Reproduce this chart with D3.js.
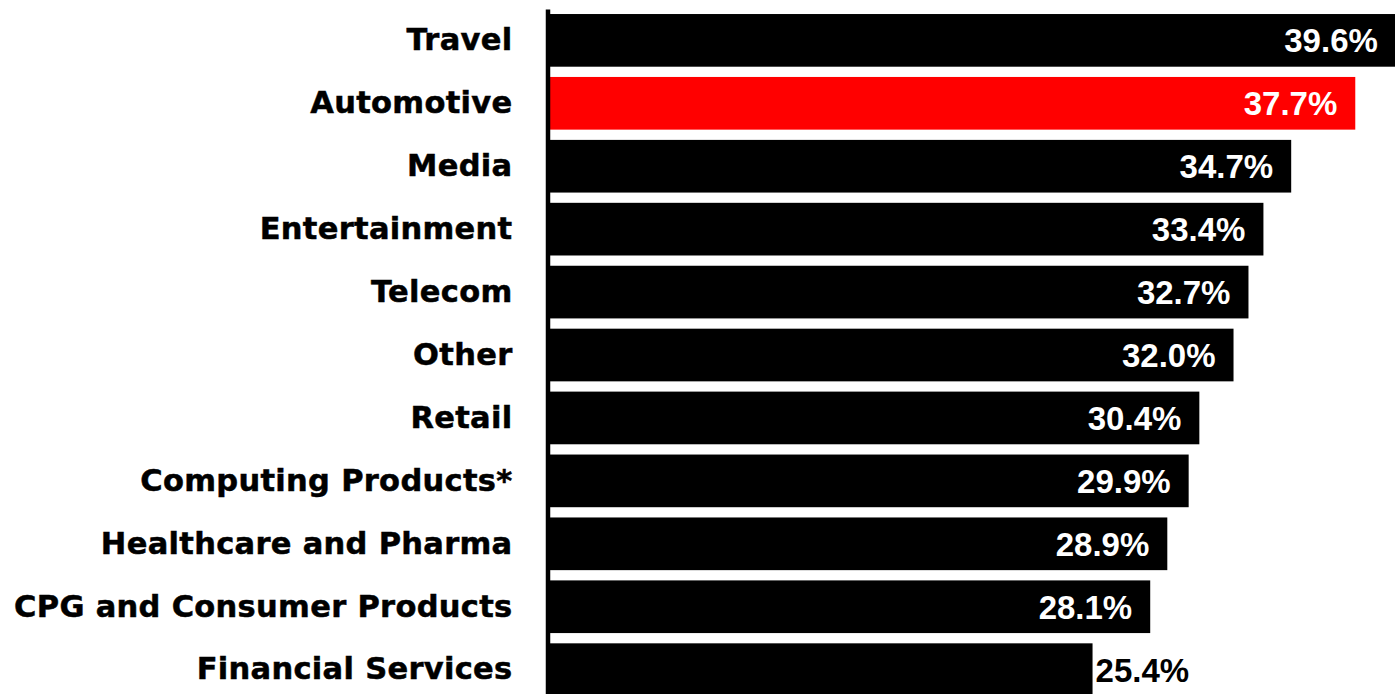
<!DOCTYPE html>
<html>
<head>
<meta charset="utf-8">
<script src="https://cdn.jsdelivr.net/npm/d3@7"></script>
<style>
  html, body { margin: 0; padding: 0; background: #fff; }
  svg { display: block; }
</style>
</head>
<body>
<div id="chart"></div>
<script>
var categories = ["Travel", "Automotive", "Media", "Entertainment", "Telecom", "Other",
  "Retail", "Computing Products*", "Healthcare and Pharma", "CPG and Consumer Products",
  "Financial Services"];
var values = [39.6, 37.7, 34.7, 33.4, 32.7, 32.0, 30.4, 29.9, 28.9, 28.1, 25.4];
var highlight = "Automotive";

var width = 1395, height = 694;

var svg = d3.select("#chart").append("svg")
    .attr("width", width)
    .attr("height", height);

var data = categories.map(function(c, i) { return {cat: c, value: values[i]}; });

var x = d3.scaleLinear()
    .domain([0, 40])
    .range([550, 550 + 40 * 21.36]);

var y = d3.scaleBand()
    .domain(categories)
    .range([8.9, 8.9 + 11 * 62.93])
    .paddingInner(0.163)
    .paddingOuter(0.0815);

// bars
svg.append("g")
  .selectAll("rect")
  .data(data)
  .enter().append("rect")
    .attr("x", x(0))
    .attr("y", function(d) { return y(d.cat); })
    .attr("width", function(d) { return x(d.value) - x(0); })
    .attr("height", y.bandwidth())
    .attr("fill", function(d) { return d.cat === highlight ? "#ff0000" : "#000"; });

// value labels - inside the bar unless the bar is the short one
svg.append("g")
    .attr("font-family", "'Liberation Sans', Arial, sans-serif")
    .attr("font-weight", "bold")
    .attr("font-size", 33)
  .selectAll("text")
  .data(data)
  .enter().append("text")
    .attr("x", function(d) { return d.value < 26 ? x(d.value) + 3 : x(d.value) - 18; })
    .attr("y", function(d) { return y(d.cat) + y.bandwidth() / 2; })
    .attr("dy", "0.36em")
    .attr("text-anchor", function(d) { return d.value < 26 ? "start" : "end"; })
    .attr("fill", function(d) { return d.value < 26 ? "#000" : "#fff"; })
    .text(function(d) { return d.value.toFixed(1) + "%"; });

// category axis
var axis = svg.append("g")
    .attr("transform", "translate(547.5,0)")
    .call(d3.axisLeft(y).tickSize(0).tickPadding(35));

axis.select(".domain")
    .attr("stroke", "#000")
    .attr("stroke-width", 4.5);

// heavier look, closer to the original Arial Black
axis.selectAll("text")
    .attr("font-family", "'DejaVu Sans', sans-serif")
    .attr("font-weight", "bold")
    .attr("font-size", 30.5)
    .attr("letter-spacing", 0.3)
    .attr("fill", "#000")
    .attr("stroke", "#000")
    .attr("stroke-width", 0.5);
</script>
</body>
</html>
